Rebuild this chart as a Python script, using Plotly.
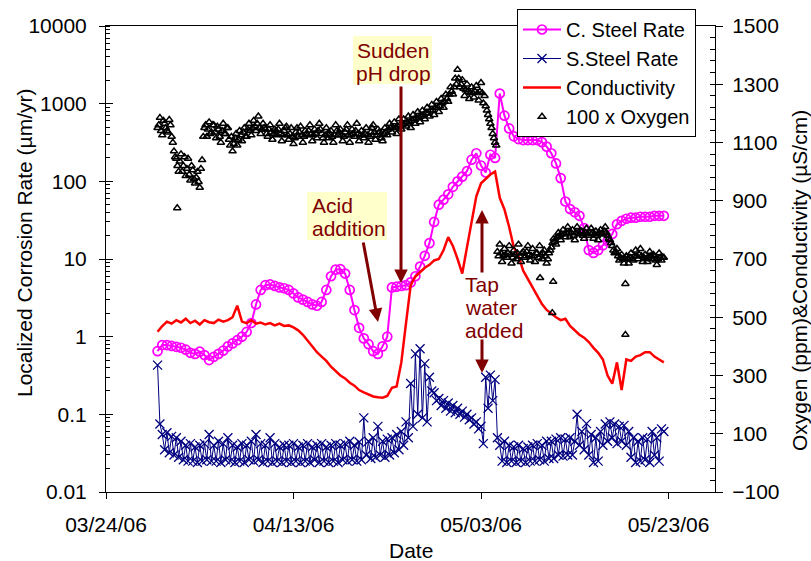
import numpy as np
import pandas as pd
import plotly.graph_objects as go

T0 = pd.Timestamp("2006-03-24")

# ---------------- data ----------------
# C. steel localized corrosion rate (um/yr), one value every 0.5 day starting day 5.5 after 03/24/06
cs_rate = [
    0.65, 0.78, 0.78, 0.76, 0.74, 0.72, 0.68, 0.62, 0.60, 0.64,
    0.58, 0.50, 0.55, 0.60, 0.66, 0.75, 0.82, 0.90, 1.00, 1.15,
    1.5, 2.6, 4.0, 4.6, 4.7, 4.5, 4.3, 4.2, 4.0, 3.6,
    3.2, 3.0, 2.8, 2.6, 2.5, 2.8, 4.0, 6.0, 7.3, 7.4,
    6.5, 4.0, 2.2, 1.3, 0.95, 0.8, 0.65, 0.6, 0.75, 1.0,
    4.3, 4.4, 4.5, 4.6, 5.0, 6.0, 8.0, 11, 16, 30,
    50, 58, 68, 85, 100, 115, 135, 190, 230, 160,
    130, 220, 200, 1350, 700, 480, 380, 350, 340, 340,
    340, 340, 320, 280, 230, 170, 110, 55, 44, 40,
    36, 25, 13, 12, 13, 15, 17, 21, 28, 31,
    33, 34, 34, 35, 35, 35, 36, 36, 36,
]
# Conductivity (uS/cm), same 0.5-day sampling
conductivity = [
    450, 470, 485, 478, 490, 482, 495, 480, 488, 475,
    490, 483, 480, 492, 485, 490, 500, 540, 485, 480,
    490, 478, 482, 475, 480, 472, 478, 470, 472, 465,
    455, 440, 420, 400, 380, 365, 350, 330, 315, 300,
    290, 275, 265, 250, 242, 235, 228, 225, 224, 230,
    258, 262, 345, 480, 610, 640, 655, 670, 680, 695,
    700, 730, 775, 745, 700, 650, 740, 830, 915, 960,
    975, 990, 1000, 910, 870, 810, 740, 710, 660, 630,
    600, 570, 545, 525, 512, 500, 490, 495, 470, 455,
    440, 430, 415, 395, 378, 355, 300, 272, 345, 250,
    355, 350, 365, 370, 380, 380, 365, 355, 345,
]
# 100 x dissolved oxygen (ppm), one value every 0.25 day starting day 5.5
oxygen100 = [
    1150, 1185, 1125, 1165, 1140, 1178, 1120, 1070,
    1045, 1000, 1060, 1020, 985, 1045, 970, 1005,
    960, 1000, 945, 1040, 1150, 1120, 1170, 1135,
    1160, 1115, 1145, 1100, 1165, 1130, 1150, 1090,
    1070, 1115, 1090, 1140, 1105, 1150, 1120, 1165,
    1125, 1175, 1140, 1190, 1130, 1165, 1145, 1120,
    1160, 1110, 1145, 1125, 1165, 1105, 1140, 1155,
    1110, 1150, 1095, 1135, 1120, 1155, 1100, 1140,
    1125, 1160, 1105, 1145, 1115, 1165, 1130, 1100,
    1150, 1115, 1140, 1100, 1160, 1125, 1145, 1105,
    1135, 1160, 1100, 1145, 1120, 1165, 1105, 1140,
    1115, 1150, 1100, 1135, 1160, 1110, 1145, 1125,
    1105, 1150, 1125, 1165, 1135, 1170, 1130, 1180,
    1145, 1180, 1155, 1190, 1150, 1195, 1165, 1205,
    1170, 1210, 1180, 1220, 1190, 1230, 1195, 1240,
    1205, 1250, 1220, 1265, 1240, 1290, 1265, 1320,
    1350, 1290, 1315, 1260, 1300, 1250, 1290, 1255,
    1295, 1245, 1305, 1235, 1225, 1195, 1165, 1130,
    1100, 725, 750, 690, 735, 705, 745, 685,
    730, 700, 750, 690, 725, 710, 745, 695,
    735, 690, 720, 745, 700, 730, 685, 720,
    740, 770, 750, 790, 765, 800, 775, 810,
    775, 800, 765, 810, 785, 795, 770, 805,
    780, 805, 770, 795, 765, 800, 785, 810,
    780, 765, 745, 720, 735, 695, 715, 685,
    710, 685, 720, 695, 730, 700, 735, 690,
    715, 690, 725, 700, 710, 680, 720, 695,
    705,
]
# second set of oxygen readings, between the above ones (day 5.625, 5.875, ...)
oxygen100_b = [
    1160, 1140, 1175, 1150, 1135, 1160, 1100, 1050,
    1020, 1035, 1000, 1050, 1010, 990, 1020, 975,
    980, 965, 1010, 1120, 1160, 1145, 1130, 1160,
    1135, 1155, 1120, 1140, 1130, 1150, 1110, 1120,
    1095, 1130, 1110, 1125, 1135, 1120, 1145, 1140,
    1150, 1155, 1165, 1150, 1145, 1150, 1130, 1145,
    1135, 1130, 1140, 1145, 1130, 1125, 1150, 1125,
    1130, 1120, 1115, 1150, 1135, 1125, 1120, 1130,
    1140, 1130, 1125, 1130, 1140, 1145, 1115, 1125,
    1130, 1130, 1120, 1125, 1140, 1135, 1125, 1120,
    1145, 1125, 1125, 1130, 1140, 1130, 1125, 1125,
    1130, 1125, 1120, 1150, 1135, 1125, 1135, 1115,
    1130, 1135, 1145, 1150, 1150, 1150, 1155, 1160,
    1160, 1165, 1170, 1170, 1175, 1180, 1185, 1185,
    1190, 1195, 1200, 1200, 1210, 1210, 1220, 1220,
    1225, 1235, 1240, 1250, 1265, 1275, 1290, 1300,
    1320, 1300, 1285, 1280, 1275, 1270, 1270, 1275,
    1270, 1275, 1270, 1260, 1210, 1180, 1150, 1115,
    1090, 710, 720, 710, 715, 720, 715, 705,
    715, 720, 710, 720, 705, 725, 715, 710,
    710, 720, 705, 715, 720, 710, 700, 730,
    755, 760, 775, 780, 785, 785, 790, 790,
    790, 780, 790, 790, 795, 780, 790, 785,
    790, 790, 785, 780, 790, 785, 795, 790,
    770, 755, 730, 725, 710, 705, 700, 700,
    700, 705, 700, 710, 710, 715, 710, 705,
    700, 705, 710, 715, 695, 700, 705, 705,
]
# isolated oxygen readings (day, value)
oxy_out_days = [7.6, 46.3, 47.6, 47.7, 55.4, 55.4]
oxy_out_vals = [875, 635, 515, 622, 615, 440]
# S. steel localized corrosion rate (um/yr), every 0.25 day starting day 5.5
ss_rate = [
    0.43, 0.075, 0.055, 0.035, 0.058, 0.032, 0.052, 0.03,
    0.05, 0.028, 0.045, 0.026, 0.04, 0.025, 0.042, 0.025,
    0.038, 0.024, 0.04, 0.025, 0.042, 0.026, 0.055, 0.025,
    0.04, 0.025, 0.045, 0.024, 0.042, 0.026, 0.05, 0.025,
    0.04, 0.024, 0.038, 0.025, 0.042, 0.024, 0.04, 0.026,
    0.045, 0.025, 0.055, 0.026, 0.042, 0.024, 0.04, 0.025,
    0.05, 0.024, 0.042, 0.025, 0.038, 0.024, 0.04, 0.025,
    0.04, 0.024, 0.042, 0.025, 0.038, 0.024, 0.04, 0.025,
    0.042, 0.024, 0.038, 0.026, 0.04, 0.024, 0.042, 0.025,
    0.038, 0.024, 0.04, 0.025, 0.042, 0.024, 0.04, 0.026,
    0.042, 0.025, 0.045, 0.026, 0.04, 0.025, 0.044, 0.026,
    0.09, 0.03, 0.045, 0.027, 0.05, 0.028, 0.07, 0.03,
    0.045, 0.028, 0.048, 0.03, 0.05, 0.032, 0.055, 0.035,
    0.06, 0.04, 0.08, 0.05, 0.25, 0.07, 0.6, 0.1,
    0.7, 0.09, 0.45, 0.08, 0.3, 0.2, 0.19, 0.15,
    0.16, 0.13, 0.15, 0.12, 0.14, 0.11, 0.13, 0.105,
    0.12, 0.1, 0.11, 0.092, 0.1, 0.085, 0.09, 0.075,
    0.08, 0.065, 0.07, 0.042, 0.3, 0.12, 0.32, 0.15,
    0.28, 0.05, 0.04, 0.025, 0.045, 0.024, 0.04, 0.025,
    0.038, 0.024, 0.04, 0.025, 0.036, 0.024, 0.038, 0.025,
    0.04, 0.025, 0.042, 0.026, 0.04, 0.025, 0.045, 0.027,
    0.045, 0.027, 0.048, 0.03, 0.05, 0.029, 0.048, 0.03,
    0.05, 0.03, 0.045, 0.1, 0.04, 0.06, 0.035, 0.076,
    0.03, 0.055, 0.024, 0.05, 0.025, 0.06, 0.04, 0.075,
    0.045, 0.08, 0.05, 0.075, 0.042, 0.07, 0.045, 0.072,
    0.04, 0.06, 0.028, 0.05, 0.024, 0.045, 0.025, 0.05,
    0.026, 0.048, 0.024, 0.06, 0.03, 0.05, 0.025, 0.065,
    0.06,
]

left_ticks = [0.01, 0.1, 1, 10, 100, 1000, 10000]
left_ticktext = ["0.01", "0.1", "1", "10", "100", "1000", "10000"]
x_start, x_end = "2006-03-24", "2006-05-27 23:00"

assert len(cs_rate) == 109 and len(conductivity) == 109
assert len(oxygen100) == 217 and len(ss_rate) == 217 and len(oxygen100_b) == 216

half_days = 5.5 + 0.5 * np.arange(len(cs_rate))
quarter_days = 5.5 + 0.25 * np.arange(len(ss_rate))
quarter_days_b = 5.625 + 0.25 * np.arange(len(oxygen100_b))


def to_dates(days):
    return T0 + pd.to_timedelta(np.asarray(days, dtype=float), unit="D")


t_half = to_dates(half_days)
t_quarter = to_dates(quarter_days)
oxy_t = list(t_quarter) + list(to_dates(quarter_days_b)) + list(to_dates(oxy_out_days))
oxy_v = list(oxygen100) + list(oxygen100_b) + list(oxy_out_vals)

FONT = "Liberation Sans, Arial, sans-serif"
DARKRED = "#800000"

fig = go.Figure()
fig.add_trace(go.Scatter(
    x=t_half, y=cs_rate, name="C. Steel Rate", mode="lines+markers",
    line=dict(color="#FF00FF", width=2),
    marker=dict(symbol="circle-open", size=9, color="#FF00FF", line=dict(width=1.7)),
    yaxis="y"))
fig.add_trace(go.Scatter(
    x=t_quarter, y=ss_rate, name="S.Steel Rate", mode="lines+markers",
    line=dict(color="#000080", width=1),
    marker=dict(symbol="x-thin-open", size=9, color="#000080", line=dict(width=1.3, color="#000080")),
    yaxis="y"))
fig.add_trace(go.Scatter(
    x=t_half, y=conductivity, name="Conductivity", mode="lines",
    line=dict(color="#FF0000", width=2.5), yaxis="y2"))
fig.add_trace(go.Scatter(
    x=oxy_t, y=oxy_v, name="100 x Oxygen", mode="markers",
    marker=dict(symbol="triangle-up-open", size=6.5, color="black", line=dict(width=1.5)),
    yaxis="y2"))
# empty helper traces so the inner-tick axes are drawn
fig.add_trace(go.Scatter(x=[], y=[], yaxis="y3", showlegend=False, hoverinfo="skip"))
fig.add_trace(go.Scatter(x=[], y=[], yaxis="y4", showlegend=False, hoverinfo="skip"))

L, R, T, B = 106, 715, 26, 492


def px(x):
    return (x - L) / (R - L)


def py(y):
    return (B - y) / (B - T)


annotations = []
shapes = []
# yellow label boxes
for x0, x1, y0, y1 in [(353, 432, 36, 84), (307, 387, 192, 240)]:
    shapes.append(dict(type="rect", xref="paper", yref="paper",
                       x0=px(x0), x1=px(x1), y0=py(y1), y1=py(y0),
                       fillcolor="#FFFFCC", line=dict(width=0), layer="above"))
for txt, x, y in [("Sudden", 355, 50), ("pH drop", 354, 73),
                  ("Acid", 310, 205), ("addition", 310, 228),
                  ("Tap", 463, 284), ("water", 463, 307), ("added", 463, 330)]:
    annotations.append(dict(text=txt, x=px(x), y=py(y), xref="paper", yref="paper",
                            xanchor="left", yanchor="middle", showarrow=False,
                            font=dict(family=FONT, size=21, color=DARKRED)))
for tipx, tipy, tailx, taily in [(401, 283, 401, 85), (378, 322, 363, 241),
                                 (482, 210, 482, 274), (482, 373, 482, 338)]:
    annotations.append(dict(text="", x=px(tipx), y=py(tipy), xref="paper", yref="paper",
                            ax=tailx - tipx, ay=taily - tipy, showarrow=True,
                            arrowhead=2, arrowsize=0.9, arrowwidth=3, arrowcolor=DARKRED,
                            standoff=0, startstandoff=0))
# axis titles (placed as in the reference, not centred on the axes)
title_font = dict(family=FONT, size=21, color="black")
annotations.append(dict(text="Localized Corrosion Rate (µm/yr)", x=px(24), y=py(243),
                        xref="paper", yref="paper", xanchor="center", yanchor="middle",
                        textangle=-90, showarrow=False, font=title_font))
annotations.append(dict(text="Oxygen (ppm)&Conductivity (µS/cm)", x=px(799), y=py(281),
                        xref="paper", yref="paper", xanchor="center", yanchor="middle",
                        textangle=-90, showarrow=False, font=title_font))
annotations.append(dict(text="Date", x=px(411), y=py(550),
                        xref="paper", yref="paper", xanchor="center", yanchor="middle",
                        showarrow=False, font=title_font))

tickfont = dict(family=FONT, size=21, color="black")
fig.update_layout(
    width=811, height=561,
    margin=dict(l=L, r=811 - R, t=T, b=561 - B, autoexpand=False),
    paper_bgcolor="white", plot_bgcolor="white",
    font=dict(family=FONT, size=21, color="black"),
    showlegend=True,
    legend=dict(x=px(696), y=py(9), xanchor="right", yanchor="top",
                bgcolor="white", bordercolor="black", borderwidth=1,
                font=dict(family=FONT, size=20, color="black"),
                tracegroupgap=0, itemwidth=38),
    xaxis=dict(type="date", range=[x_start, x_end], tick0="2006-03-24",
               dtick=20 * 86400000, tickformat="%m/%d/%y", automargin=False,
               showgrid=False, zeroline=False, showline=True, linecolor="black",
               linewidth=1, mirror=True, ticks="outside", ticklen=6, tickcolor="black",
               tickfont=tickfont, ticklabelstandoff=8),
    yaxis=dict(type="log", range=[-2, 4], tickvals=left_ticks, ticktext=left_ticktext,
               automargin=False,
               showgrid=False, zeroline=False, showline=True, linecolor="black",
               linewidth=1, ticks="outside", ticklen=6, tickcolor="black",
               tickfont=tickfont, ticklabelstandoff=8,
               minor=dict(ticks="inside", ticklen=4, tickcolor="black", dtick="D1",
                          showgrid=False)),
    yaxis2=dict(overlaying="y", side="right", anchor="x", range=[-100, 1500],
                tick0=-100, dtick=200, showgrid=False, zeroline=False, automargin=False,
                showline=True, linecolor="black", linewidth=1,
                ticks="outside", ticklen=7, tickcolor="black",
                tickfont=tickfont, ticklabelstandoff=5),
    yaxis3=dict(overlaying="y", side="left", anchor="x", type="log", range=[-2, 4],
                tickvals=left_ticks, showticklabels=False, ticks="inside", ticklen=7,
                automargin=False,
                tickcolor="black", showgrid=False, zeroline=False, showline=False),
    yaxis4=dict(overlaying="y", side="right", anchor="x", range=[-100, 1500],
                tick0=-100, dtick=40, showticklabels=False, ticks="inside", ticklen=5,
                automargin=False,
                tickcolor="black", showgrid=False, zeroline=False, showline=False),
    annotations=annotations, shapes=shapes,
)

fig.write_html("out.html")
